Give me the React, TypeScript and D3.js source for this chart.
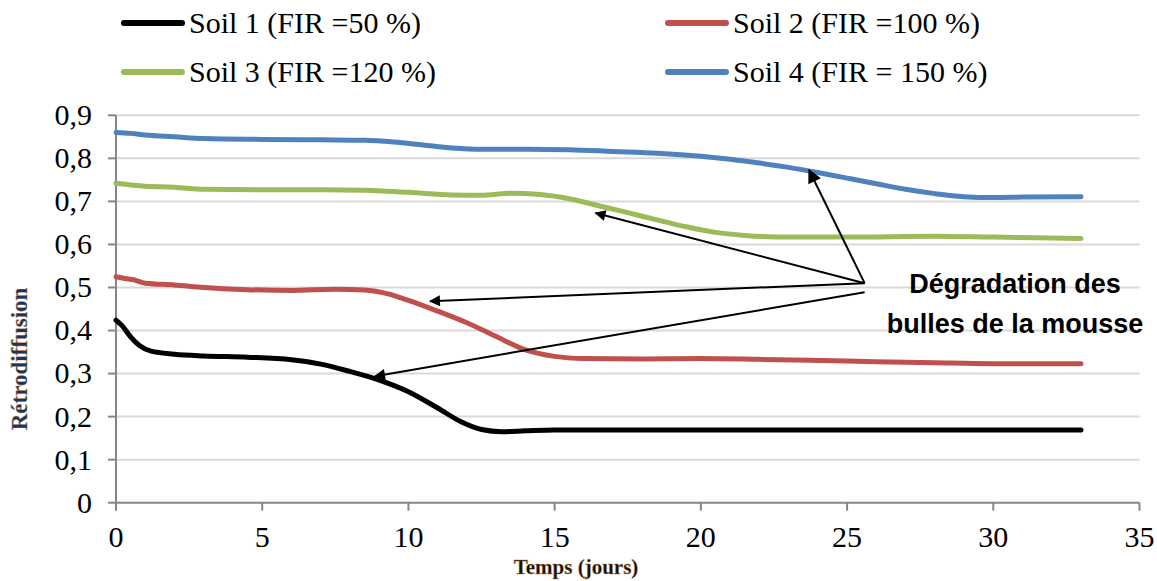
import React from "react";
import * as d3 from "d3";

const W = 1157;
const H = 581;

const seriesNames = ["Soil 1 (FIR =50 %)", "Soil 2 (FIR =100 %)", "Soil 3 (FIR =120 %)", "Soil 4 (FIR = 150 %)"];
const seriesColors = ["#000000", "#C0504D", "#9BBB59", "#4F81BD"];

const soil1T = [0, 0.2, 0.5, 0.8, 1.2, 2, 3, 4.5, 6, 7, 8, 9, 10, 11, 11.8, 12.5, 13.2, 14, 15, 17, 20, 25, 30, 33];
const soil1V = [0.424, 0.412, 0.385, 0.365, 0.352, 0.345, 0.341, 0.338, 0.332, 0.322, 0.305, 0.285, 0.258, 0.22, 0.188, 0.17, 0.165, 0.167, 0.169, 0.169, 0.169, 0.169, 0.169, 0.169];

const soil2T = [0, 0.3, 0.6, 1, 2, 3, 4.5, 6, 7.5, 8.5, 9.3, 10, 11, 12, 13, 14, 15, 16, 18, 20, 22, 25, 28, 30, 33];
const soil2V = [0.525, 0.521, 0.518, 0.51, 0.506, 0.5, 0.495, 0.493, 0.496, 0.494, 0.485, 0.47, 0.445, 0.418, 0.386, 0.355, 0.34, 0.335, 0.334, 0.335, 0.333, 0.329, 0.325, 0.323, 0.323];

const soil3T = [0, 1, 2, 3, 5, 7, 8.5, 10, 11.5, 12.5, 13.5, 14.5, 15.5, 16.5, 17.5, 18.5, 19.5, 20.5, 21.5, 23, 25, 28, 30, 33];
const soil3V = [0.742, 0.735, 0.733, 0.728, 0.727, 0.727, 0.726, 0.721, 0.715, 0.714, 0.719, 0.716, 0.706, 0.69, 0.674, 0.657, 0.641, 0.628, 0.621, 0.617, 0.617, 0.619, 0.617, 0.614];

const soil4T = [0, 0.5, 1, 2, 3, 5, 7, 8.5, 9.5, 10.5, 11.5, 12.5, 14, 15.5, 17, 18.5, 20, 21, 22, 23, 24, 25, 26, 27, 28, 29, 30, 31, 33];
const soil4V = [0.86, 0.858, 0.854, 0.85, 0.846, 0.844, 0.843, 0.842, 0.838, 0.831, 0.824, 0.821, 0.821, 0.82, 0.816, 0.812, 0.805, 0.798, 0.789, 0.779, 0.767, 0.754, 0.741, 0.728, 0.718, 0.711, 0.709, 0.71, 0.711];

const xTicks = [0, 5, 10, 15, 20, 25, 30, 35];
const yTicks = [0, 0.1, 0.2, 0.3, 0.4, 0.5, 0.6, 0.7, 0.8, 0.9];

// annotation arrows in data coordinates: [fromT, fromV, toT, toV]
const arrowsData = [
  [25.6, 0.51, 23.7, 0.773],
  [25.6, 0.51, 16.4, 0.673],
  [25.6, 0.51, 10.74, 0.468],
  [25.6, 0.489, 8.86, 0.294],
];
const annotationLines = ["Dégradation des", "bulles de la mousse"];

export default function App() {
  const x = d3.scaleLinear().domain([0, 35]).range([116, 1139.5]);
  const y = d3.scaleLinear().domain([0, 0.9]).range([502.7, 115.3]);

  const series = [
    soil1T.map((t, i) => [t, soil1V[i]]),
    soil2T.map((t, i) => [t, soil2V[i]]),
    soil3T.map((t, i) => [t, soil3V[i]]),
    soil4T.map((t, i) => [t, soil4V[i]]),
  ];
  const line = d3
    .line<number[]>()
    .x((d) => x(d[0]))
    .y((d) => y(d[1]))
    .curve(d3.curveMonotoneX);

  const serif = "'Liberation Serif', 'Times New Roman', serif";
  const sans = "'Liberation Sans', Arial, sans-serif";

  const legendPos = [
    [124, 23],
    [668, 23],
    [124, 72],
    [668, 72],
  ];

  return (
    <svg width={W} height={H} style={{ position: "absolute", left: 0, top: 0, background: "#fff" }}>
      <defs>
        <marker id="arr" viewBox="0 0 10 10" refX="9" refY="5" markerWidth="13" markerHeight="11" markerUnits="userSpaceOnUse" orient="auto">
          <path d="M0,0 L10,5 L0,10 z" fill="#000" />
        </marker>
        <marker id="arrB" viewBox="0 0 10 10" refX="9" refY="5" markerWidth="16" markerHeight="14" markerUnits="userSpaceOnUse" orient="auto">
          <path d="M0,0 L10,5 L0,10 z" fill="#000" />
        </marker>
      </defs>
      {/* gridlines */}
      {yTicks.slice(1).map((v) => (
        <line key={v} x1={x(0)} x2={x(35)} y1={y(v)} y2={y(v)} stroke="#D9D9D9" strokeWidth={2} />
      ))}
      {/* axes */}
      <line x1={x(0)} x2={x(0)} y1={y(0)} y2={y(0.9)} stroke="#868686" strokeWidth={2} />
      <line x1={x(0)} x2={x(35)} y1={y(0)} y2={y(0)} stroke="#868686" strokeWidth={2} />
      {yTicks.map((v) => (
        <g key={v}>
          <line x1={x(0) - 8} x2={x(0)} y1={y(v)} y2={y(v)} stroke="#868686" strokeWidth={2} />
          <text x={92} y={y(v)} dy="0.33em" textAnchor="end" fontFamily={serif} fontSize={30} fill="#000">
            {String(Math.round(v * 10) / 10).replace(".", ",")}
          </text>
        </g>
      ))}
      {xTicks.map((t) => (
        <g key={t}>
          <line x1={x(t)} x2={x(t)} y1={y(0)} y2={y(0) + 8} stroke="#868686" strokeWidth={2} />
          <text x={x(t)} y={547} textAnchor="middle" fontFamily={serif} fontSize={30} fill="#000">
            {t}
          </text>
        </g>
      ))}
      {/* axis titles */}
      <text x={576} y={574} textAnchor="middle" fontFamily={serif} fontWeight="bold" fontSize={21} fill="#111" stroke="#c8873a" strokeWidth={0.35}>
        Temps (jours)
      </text>
      <text transform={`translate(27,359) rotate(-90)`} textAnchor="middle" fontFamily={serif} fontWeight="bold" fontSize={23} fill="#17365D" stroke="#c8873a" strokeWidth={0.35}>
        Rétrodiffusion
      </text>
      {/* series */}
      {series.map((s, i) => (
        <path key={i} d={line(s) || ""} fill="none" stroke={seriesColors[i]} strokeWidth={5} strokeLinecap="round" strokeLinejoin="round" />
      ))}
      {/* arrows */}
      {arrowsData.map((a, i) => (
        <line
          key={i}
          x1={x(a[0])}
          y1={y(a[1])}
          x2={x(a[2])}
          y2={y(a[3])}
          stroke="#000"
          strokeWidth={2}
          markerEnd={i === 0 ? "url(#arrB)" : "url(#arr)"}
        />
      ))}
      {annotationLines.map((l, i) => (
        <text key={l} x={1015} y={293 + i * 40} textAnchor="middle" fontFamily={sans} fontWeight="bold" fontSize={27} fill="#000">
          {l}
        </text>
      ))}
      {/* legend */}
      {seriesNames.map((n, i) => (
        <g key={n}>
          <line x1={legendPos[i][0]} x2={legendPos[i][0] + 58} y1={legendPos[i][1]} y2={legendPos[i][1]} stroke={seriesColors[i]} strokeWidth={6} strokeLinecap="round" />
          <text x={legendPos[i][0] + 65} y={legendPos[i][1] + 10} fontFamily={serif} fontSize={30} fill="#000">
            {n}
          </text>
        </g>
      ))}
    </svg>
  );
}
